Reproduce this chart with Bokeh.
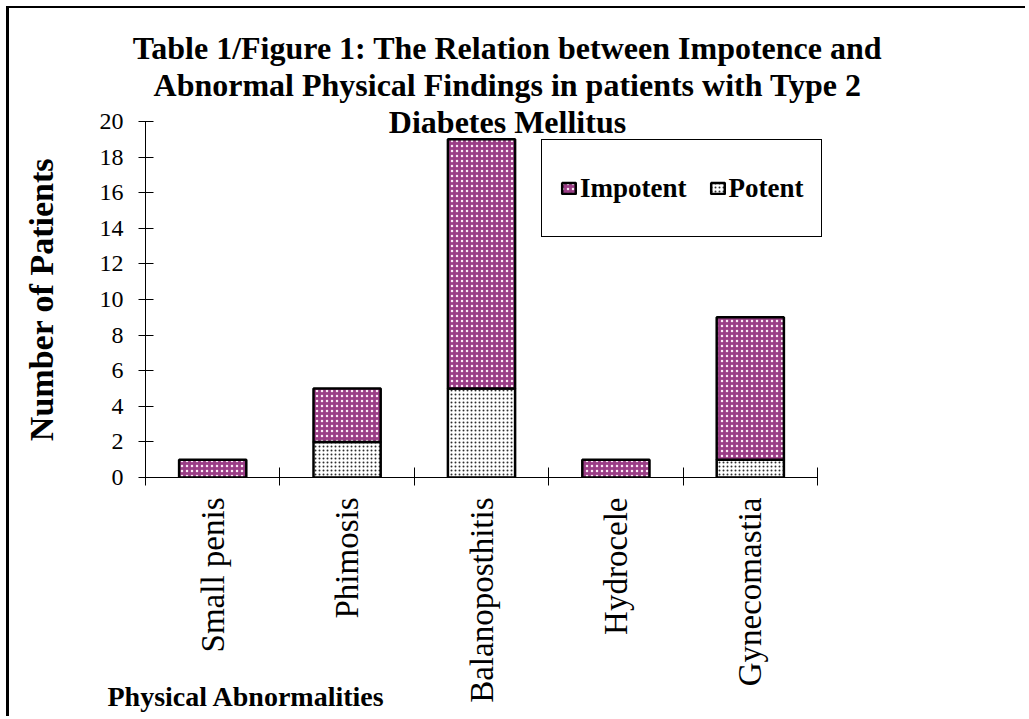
import math
from bokeh.plotting import figure
from bokeh.models import (Range1d, FixedTicker, Title, Legend, LegendItem,
                          ColumnDataSource)
from bokeh.embed import file_html
from bokeh.resources import INLINE

# ---- data ----
categories = ["Small penis", "Phimosis", "Balanoposthitis", "Hydrocele", "Gynecomastia"]
impotent = [1, 3, 14, 1, 8]
potent = [0, 2, 5, 0, 1]
series_names = ["Impotent", "Potent"]
title_lines = [
    "Table 1/Figure 1: The Relation between Impotence and",
    "Abnormal Physical Findings in patients with Type 2",
    "Diabetes Mellitus",
]
x_title = "Physical Abnormalities"
y_title = "Number of Patients"
y_ticks = list(range(0, 21, 2))
y_max = 20

# ---- derived ----
n = len(categories)
centers = [i + 0.5 for i in range(n)]
boundaries = list(range(n + 1))
totals = [a + b for a, b in zip(impotent, potent)]
src = ColumnDataSource(dict(x=centers, potent=potent, total=totals,
                            zero=[0] * n, cat=categories))

SERIF = "Liberation Serif"
W, H = 1019, 710
LEFT, TOP, BOTTOM = 136, 113, 241      # canvas px
AXIS_W = 672                           # px spanned by the categories
FRAME_W = 724                          # frame width, so titles centre right
x_end = n * FRAME_W / AXIS_W

p = figure(width=W, height=H, output_backend="svg", toolbar_location=None,
           x_range=Range1d(0, x_end), y_range=Range1d(0, y_max),
           min_border=0, min_border_left=LEFT,
           min_border_right=W - LEFT - FRAME_W,
           min_border_top=TOP, min_border_bottom=BOTTOM)
p.styles = {"border-left": "3px solid black", "border-top": "2px solid black",
            "margin-left": "6px", "margin-top": "6px"}
p.outline_line_color = None
p.xgrid.visible = False
p.ygrid.visible = False
p.background_fill_color = "white"
p.border_fill_color = "white"

BAR_W = 0.5
r_pot = p.vbar(x="x", bottom="zero", top="potent", width=BAR_W, source=src,
               fill_color="white", hatch_pattern="dot", hatch_color="#2e2e2e",
               hatch_scale=4, hatch_weight=2.0,
               line_color="black", line_width=2.5)
r_imp = p.vbar(x="x", bottom="potent", top="total", width=BAR_W, source=src,
               fill_color="#9a3d86", hatch_pattern="dot", hatch_color="#fbeaf5",
               hatch_scale=5, hatch_weight=2.8,
               line_color="black", line_width=2.5)

# ---- axes ----
xa = p.xaxis[0]
xa.bounds = (0, n)
xa.ticker = FixedTicker(ticks=centers, minor_ticks=boundaries)
xa.major_label_overrides = {c: lab for c, lab in zip(centers, categories)}
xa.major_tick_in = 0
xa.major_tick_out = 0
xa.minor_tick_in = 10
xa.minor_tick_out = 8
xa.minor_tick_line_color = "black"
xa.axis_line_color = "black"
xa.major_label_orientation = math.pi / 2
xa.major_label_standoff = 12
xa.major_label_text_font = SERIF
xa.major_label_text_font_size = "33px"
xa.major_label_text_color = "black"

ya = p.yaxis[0]
ya.ticker = FixedTicker(ticks=y_ticks)
ya.major_tick_in = 8
ya.major_tick_out = 7
ya.minor_tick_line_color = None
ya.major_tick_line_color = "black"
ya.axis_line_color = "black"
ya.major_label_standoff = 15
ya.major_label_text_font = SERIF
ya.major_label_text_font_size = "24px"
ya.major_label_text_color = "black"
ya.axis_label = y_title
ya.axis_label_text_font = SERIF
ya.axis_label_text_font_style = "bold"
ya.axis_label_text_font_size = "34px"
ya.axis_label_text_color = "black"
ya.axis_label_standoff = 37

# ---- title lines (stacked above; last line added first = nearest plot) ----
standoffs = [-37, 35, -37]
for line, so in reversed(list(zip(title_lines, standoffs))):
    p.add_layout(Title(text=line, align="center", standoff=so,
                       text_font=SERIF, text_font_style="bold",
                       text_font_size="32px", text_color="black"), "above")

# ---- x axis title, overlapping the bottom of the category labels ----
p.add_layout(Title(text=x_title, align="left", offset=-38, standoff=-50,
                   vertical_align="top",
                   text_font=SERIF, text_font_style="bold",
                   text_font_size="28px", text_color="black"), "below")

# ---- legend ----
legend = Legend(items=[LegendItem(label=series_names[0], renderers=[r_imp]),
                       LegendItem(label=series_names[1], renderers=[r_pot])],
                orientation="horizontal", location=(396, 240),
                border_line_color="black", border_line_width=1,
                border_line_alpha=1,
                background_fill_color="white", background_fill_alpha=1,
                padding=18, spacing=22, label_standoff=3,
                glyph_width=17, glyph_height=14, label_height=60,
                label_text_font=SERIF, label_text_font_style="bold",
                label_text_font_size="27px", label_text_color="black",
                margin=0)
p.add_layout(legend, "center")

open("out.html", "w").write(file_html(p, INLINE))
